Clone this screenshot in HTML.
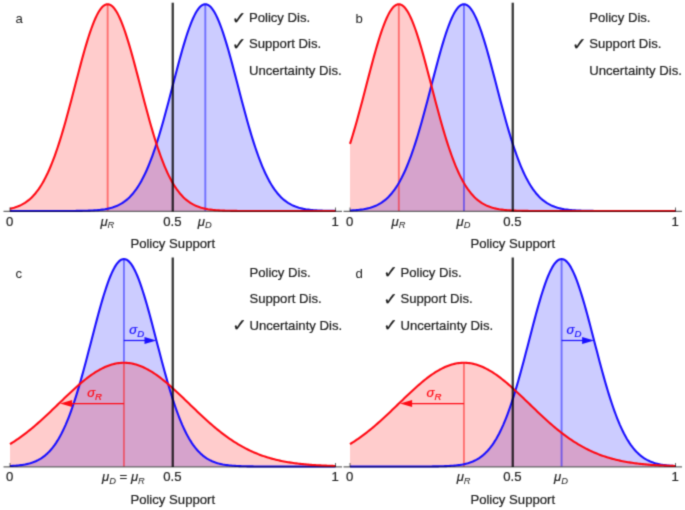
<!DOCTYPE html>
<html><head><meta charset="utf-8"><title>Policy Support</title>
<style>
html,body{margin:0;padding:0;background:#fff;}
svg{display:block}
.t{font-family:"Liberation Sans","DejaVu Sans",sans-serif;font-size:13.15px;fill:#202020;stroke:#202020;stroke-width:0.2px;}
.i{font-style:italic}
.s{font-style:italic;font-size:9.3px;stroke-width:0}
.s2{font-size:9.6px;stroke-width:0.2px}
.lb{stroke-width:0}
.ck{font-family:'DejaVu Sans',sans-serif;font-size:17.5px}
</style></head><body>
<svg width="685" height="510" viewBox="0 0 685 510">
<defs><filter id="soft" x="0" y="0" width="100%" height="100%" filterUnits="userSpaceOnUse" color-interpolation-filters="sRGB"><feConvolveMatrix order="3" kernelMatrix="0.0622 0.2494 0.0622 0.2494 1 0.2494 0.0622 0.2494 0.0622" divisor="2.2461" edgeMode="duplicate" preserveAlpha="true"/></filter></defs>
<rect width="685" height="510" fill="#fff"/>
<g filter="url(#soft)">
<rect width="685" height="510" fill="#fff"/>
<path d="M10.00,211.00 L11.36,211.00 L12.71,211.00 L14.07,211.00 L15.43,211.00 L16.78,211.00 L18.14,211.00 L19.49,211.00 L20.85,211.00 L22.21,211.00 L23.56,211.00 L24.92,211.00 L26.28,211.00 L27.63,211.00 L28.99,211.00 L30.34,211.00 L31.70,211.00 L33.06,211.00 L34.41,211.00 L35.77,211.00 L37.12,211.00 L38.48,211.00 L39.84,211.00 L41.19,211.00 L42.55,211.00 L43.91,211.00 L45.26,211.00 L46.62,211.00 L47.98,211.00 L49.33,211.00 L50.69,211.00 L52.04,211.00 L53.40,211.00 L54.76,211.00 L56.11,210.99 L57.47,210.99 L58.82,210.99 L60.18,210.99 L61.54,210.99 L62.89,210.99 L64.25,210.98 L65.61,210.98 L66.96,210.98 L68.32,210.97 L69.67,210.96 L71.03,210.96 L72.39,210.95 L73.74,210.94 L75.10,210.93 L76.46,210.92 L77.81,210.90 L79.17,210.89 L80.53,210.87 L81.88,210.84 L83.24,210.82 L84.59,210.79 L85.95,210.75 L87.31,210.71 L88.66,210.66 L90.02,210.61 L91.38,210.55 L92.73,210.48 L94.09,210.40 L95.44,210.30 L96.80,210.20 L98.16,210.08 L99.51,209.95 L100.87,209.80 L102.22,209.63 L103.58,209.43 L104.94,209.22 L106.29,208.97 L107.65,208.70 L109.01,208.40 L110.36,208.06 L111.72,207.68 L113.07,207.26 L114.43,206.80 L115.79,206.29 L117.14,205.72 L118.50,205.09 L119.86,204.40 L121.21,203.65 L122.57,202.82 L123.92,201.91 L125.28,200.93 L126.64,199.85 L127.99,198.68 L129.35,197.41 L130.71,196.03 L132.06,194.55 L133.42,192.95 L134.78,191.22 L136.13,189.37 L137.49,187.39 L138.84,185.27 L140.20,183.01 L141.56,180.61 L142.91,178.05 L144.27,175.34 L145.62,172.48 L146.98,169.46 L148.34,166.28 L149.69,162.94 L151.05,159.43 L152.41,155.77 L153.76,151.96 L155.12,147.98 L156.47,143.86 L157.83,139.59 L159.19,135.19 L160.54,130.65 L161.90,125.98 L163.26,121.20 L164.61,116.32 L165.97,111.34 L167.32,106.29 L168.68,101.17 L170.04,96.00 L171.39,90.79 L172.75,85.57 L174.11,80.35 L175.46,75.14 L176.82,69.97 L178.18,64.87 L179.53,59.83 L180.89,54.90 L182.24,50.08 L183.60,45.41 L184.96,40.89 L186.31,36.55 L187.67,32.42 L189.03,28.50 L190.38,24.82 L191.74,21.39 L193.09,18.24 L194.45,15.38 L195.81,12.81 L197.16,10.56 L198.52,8.64 L199.88,7.05 L201.23,5.81 L202.59,4.92 L203.94,4.38 L205.30,4.20 L206.66,4.38 L208.01,4.92 L209.37,5.81 L210.73,7.05 L212.08,8.64 L213.44,10.56 L214.79,12.81 L216.15,15.38 L217.51,18.24 L218.86,21.39 L220.22,24.82 L221.58,28.50 L222.93,32.42 L224.29,36.55 L225.64,40.89 L227.00,45.41 L228.36,50.08 L229.71,54.90 L231.07,59.83 L232.43,64.87 L233.78,69.97 L235.14,75.14 L236.49,80.35 L237.85,85.57 L239.21,90.79 L240.56,96.00 L241.92,101.17 L243.28,106.29 L244.63,111.34 L245.99,116.32 L247.34,121.20 L248.70,125.98 L250.06,130.65 L251.41,135.19 L252.77,139.59 L254.12,143.86 L255.48,147.98 L256.84,151.96 L258.19,155.77 L259.55,159.43 L260.91,162.94 L262.26,166.28 L263.62,169.46 L264.98,172.48 L266.33,175.34 L267.69,178.05 L269.04,180.61 L270.40,183.01 L271.76,185.27 L273.11,187.39 L274.47,189.37 L275.82,191.22 L277.18,192.95 L278.54,194.55 L279.89,196.03 L281.25,197.41 L282.61,198.68 L283.96,199.85 L285.32,200.93 L286.68,201.91 L288.03,202.82 L289.39,203.65 L290.74,204.40 L292.10,205.09 L293.46,205.72 L294.81,206.29 L296.17,206.80 L297.52,207.26 L298.88,207.68 L300.24,208.06 L301.59,208.40 L302.95,208.70 L304.31,208.97 L305.66,209.22 L307.02,209.43 L308.38,209.63 L309.73,209.80 L311.09,209.95 L312.44,210.08 L313.80,210.20 L315.16,210.30 L316.51,210.40 L317.87,210.48 L319.22,210.55 L320.58,210.61 L321.94,210.66 L323.29,210.71 L324.65,210.75 L326.01,210.79 L327.36,210.82 L328.72,210.84 L330.07,210.87 L331.43,210.89 L332.79,210.90 L334.14,210.92 L335.50,210.93 L335.50,211 L10.00,211 Z" fill="rgba(0,0,255,0.2)"/>
<path d="M10.00,208.70 L11.36,208.40 L12.71,208.06 L14.07,207.68 L15.43,207.26 L16.78,206.80 L18.14,206.29 L19.49,205.72 L20.85,205.09 L22.21,204.40 L23.56,203.65 L24.92,202.82 L26.28,201.91 L27.63,200.93 L28.99,199.85 L30.34,198.68 L31.70,197.41 L33.06,196.03 L34.41,194.55 L35.77,192.95 L37.12,191.22 L38.48,189.37 L39.84,187.39 L41.19,185.27 L42.55,183.01 L43.91,180.61 L45.26,178.05 L46.62,175.34 L47.98,172.48 L49.33,169.46 L50.69,166.28 L52.04,162.94 L53.40,159.43 L54.76,155.77 L56.11,151.96 L57.47,147.98 L58.82,143.86 L60.18,139.59 L61.54,135.19 L62.89,130.65 L64.25,125.98 L65.61,121.20 L66.96,116.32 L68.32,111.34 L69.67,106.29 L71.03,101.17 L72.39,96.00 L73.74,90.79 L75.10,85.57 L76.46,80.35 L77.81,75.14 L79.17,69.97 L80.53,64.87 L81.88,59.83 L83.24,54.90 L84.59,50.08 L85.95,45.41 L87.31,40.89 L88.66,36.55 L90.02,32.42 L91.38,28.50 L92.73,24.82 L94.09,21.39 L95.44,18.24 L96.80,15.38 L98.16,12.81 L99.51,10.56 L100.87,8.64 L102.22,7.05 L103.58,5.81 L104.94,4.92 L106.29,4.38 L107.65,4.20 L109.01,4.38 L110.36,4.92 L111.72,5.81 L113.07,7.05 L114.43,8.64 L115.79,10.56 L117.14,12.81 L118.50,15.38 L119.86,18.24 L121.21,21.39 L122.57,24.82 L123.92,28.50 L125.28,32.42 L126.64,36.55 L127.99,40.89 L129.35,45.41 L130.71,50.08 L132.06,54.90 L133.42,59.83 L134.78,64.87 L136.13,69.97 L137.49,75.14 L138.84,80.35 L140.20,85.57 L141.56,90.79 L142.91,96.00 L144.27,101.17 L145.62,106.29 L146.98,111.34 L148.34,116.32 L149.69,121.20 L151.05,125.98 L152.41,130.65 L153.76,135.19 L155.12,139.59 L156.47,143.86 L157.83,147.98 L159.19,151.96 L160.54,155.77 L161.90,159.43 L163.26,162.94 L164.61,166.28 L165.97,169.46 L167.32,172.48 L168.68,175.34 L170.04,178.05 L171.39,180.61 L172.75,183.01 L174.11,185.27 L175.46,187.39 L176.82,189.37 L178.18,191.22 L179.53,192.95 L180.89,194.55 L182.24,196.03 L183.60,197.41 L184.96,198.68 L186.31,199.85 L187.67,200.93 L189.03,201.91 L190.38,202.82 L191.74,203.65 L193.09,204.40 L194.45,205.09 L195.81,205.72 L197.16,206.29 L198.52,206.80 L199.88,207.26 L201.23,207.68 L202.59,208.06 L203.94,208.40 L205.30,208.70 L206.66,208.97 L208.01,209.22 L209.37,209.43 L210.73,209.63 L212.08,209.80 L213.44,209.95 L214.79,210.08 L216.15,210.20 L217.51,210.30 L218.86,210.40 L220.22,210.48 L221.58,210.55 L222.93,210.61 L224.29,210.66 L225.64,210.71 L227.00,210.75 L228.36,210.79 L229.71,210.82 L231.07,210.84 L232.43,210.87 L233.78,210.89 L235.14,210.90 L236.49,210.92 L237.85,210.93 L239.21,210.94 L240.56,210.95 L241.92,210.96 L243.28,210.96 L244.63,210.97 L245.99,210.98 L247.34,210.98 L248.70,210.98 L250.06,210.99 L251.41,210.99 L252.77,210.99 L254.12,210.99 L255.48,210.99 L256.84,210.99 L258.19,211.00 L259.55,211.00 L260.91,211.00 L262.26,211.00 L263.62,211.00 L264.98,211.00 L266.33,211.00 L267.69,211.00 L269.04,211.00 L270.40,211.00 L271.76,211.00 L273.11,211.00 L274.47,211.00 L275.82,211.00 L277.18,211.00 L278.54,211.00 L279.89,211.00 L281.25,211.00 L282.61,211.00 L283.96,211.00 L285.32,211.00 L286.68,211.00 L288.03,211.00 L289.39,211.00 L290.74,211.00 L292.10,211.00 L293.46,211.00 L294.81,211.00 L296.17,211.00 L297.52,211.00 L298.88,211.00 L300.24,211.00 L301.59,211.00 L302.95,211.00 L304.31,211.00 L305.66,211.00 L307.02,211.00 L308.38,211.00 L309.73,211.00 L311.09,211.00 L312.44,211.00 L313.80,211.00 L315.16,211.00 L316.51,211.00 L317.87,211.00 L319.22,211.00 L320.58,211.00 L321.94,211.00 L323.29,211.00 L324.65,211.00 L326.01,211.00 L327.36,211.00 L328.72,211.00 L330.07,211.00 L331.43,211.00 L332.79,211.00 L334.14,211.00 L335.50,211.00 L335.50,211 L10.00,211 Z" fill="rgba(255,0,0,0.2)"/>
<line x1="205.30" y1="4.20" x2="205.30" y2="211.00" stroke="#0000ff" stroke-width="1.9" opacity="0.45"/>
<line x1="107.65" y1="4.20" x2="107.65" y2="211" stroke="#ff0000" stroke-width="1.9" opacity="0.45"/>
<path d="M10.00,211.00 L11.36,211.00 L12.71,211.00 L14.07,211.00 L15.43,211.00 L16.78,211.00 L18.14,211.00 L19.49,211.00 L20.85,211.00 L22.21,211.00 L23.56,211.00 L24.92,211.00 L26.28,211.00 L27.63,211.00 L28.99,211.00 L30.34,211.00 L31.70,211.00 L33.06,211.00 L34.41,211.00 L35.77,211.00 L37.12,211.00 L38.48,211.00 L39.84,211.00 L41.19,211.00 L42.55,211.00 L43.91,211.00 L45.26,211.00 L46.62,211.00 L47.98,211.00 L49.33,211.00 L50.69,211.00 L52.04,211.00 L53.40,211.00 L54.76,211.00 L56.11,210.99 L57.47,210.99 L58.82,210.99 L60.18,210.99 L61.54,210.99 L62.89,210.99 L64.25,210.98 L65.61,210.98 L66.96,210.98 L68.32,210.97 L69.67,210.96 L71.03,210.96 L72.39,210.95 L73.74,210.94 L75.10,210.93 L76.46,210.92 L77.81,210.90 L79.17,210.89 L80.53,210.87 L81.88,210.84 L83.24,210.82 L84.59,210.79 L85.95,210.75 L87.31,210.71 L88.66,210.66 L90.02,210.61 L91.38,210.55 L92.73,210.48 L94.09,210.40 L95.44,210.30 L96.80,210.20 L98.16,210.08 L99.51,209.95 L100.87,209.80 L102.22,209.63 L103.58,209.43 L104.94,209.22 L106.29,208.97 L107.65,208.70 L109.01,208.40 L110.36,208.06 L111.72,207.68 L113.07,207.26 L114.43,206.80 L115.79,206.29 L117.14,205.72 L118.50,205.09 L119.86,204.40 L121.21,203.65 L122.57,202.82 L123.92,201.91 L125.28,200.93 L126.64,199.85 L127.99,198.68 L129.35,197.41 L130.71,196.03 L132.06,194.55 L133.42,192.95 L134.78,191.22 L136.13,189.37 L137.49,187.39 L138.84,185.27 L140.20,183.01 L141.56,180.61 L142.91,178.05 L144.27,175.34 L145.62,172.48 L146.98,169.46 L148.34,166.28 L149.69,162.94 L151.05,159.43 L152.41,155.77 L153.76,151.96 L155.12,147.98 L156.47,143.86 L157.83,139.59 L159.19,135.19 L160.54,130.65 L161.90,125.98 L163.26,121.20 L164.61,116.32 L165.97,111.34 L167.32,106.29 L168.68,101.17 L170.04,96.00 L171.39,90.79 L172.75,85.57 L174.11,80.35 L175.46,75.14 L176.82,69.97 L178.18,64.87 L179.53,59.83 L180.89,54.90 L182.24,50.08 L183.60,45.41 L184.96,40.89 L186.31,36.55 L187.67,32.42 L189.03,28.50 L190.38,24.82 L191.74,21.39 L193.09,18.24 L194.45,15.38 L195.81,12.81 L197.16,10.56 L198.52,8.64 L199.88,7.05 L201.23,5.81 L202.59,4.92 L203.94,4.38 L205.30,4.20 L206.66,4.38 L208.01,4.92 L209.37,5.81 L210.73,7.05 L212.08,8.64 L213.44,10.56 L214.79,12.81 L216.15,15.38 L217.51,18.24 L218.86,21.39 L220.22,24.82 L221.58,28.50 L222.93,32.42 L224.29,36.55 L225.64,40.89 L227.00,45.41 L228.36,50.08 L229.71,54.90 L231.07,59.83 L232.43,64.87 L233.78,69.97 L235.14,75.14 L236.49,80.35 L237.85,85.57 L239.21,90.79 L240.56,96.00 L241.92,101.17 L243.28,106.29 L244.63,111.34 L245.99,116.32 L247.34,121.20 L248.70,125.98 L250.06,130.65 L251.41,135.19 L252.77,139.59 L254.12,143.86 L255.48,147.98 L256.84,151.96 L258.19,155.77 L259.55,159.43 L260.91,162.94 L262.26,166.28 L263.62,169.46 L264.98,172.48 L266.33,175.34 L267.69,178.05 L269.04,180.61 L270.40,183.01 L271.76,185.27 L273.11,187.39 L274.47,189.37 L275.82,191.22 L277.18,192.95 L278.54,194.55 L279.89,196.03 L281.25,197.41 L282.61,198.68 L283.96,199.85 L285.32,200.93 L286.68,201.91 L288.03,202.82 L289.39,203.65 L290.74,204.40 L292.10,205.09 L293.46,205.72 L294.81,206.29 L296.17,206.80 L297.52,207.26 L298.88,207.68 L300.24,208.06 L301.59,208.40 L302.95,208.70 L304.31,208.97 L305.66,209.22 L307.02,209.43 L308.38,209.63 L309.73,209.80 L311.09,209.95 L312.44,210.08 L313.80,210.20 L315.16,210.30 L316.51,210.40 L317.87,210.48 L319.22,210.55 L320.58,210.61 L321.94,210.66 L323.29,210.71 L324.65,210.75 L326.01,210.79 L327.36,210.82 L328.72,210.84 L330.07,210.87 L331.43,210.89 L332.79,210.90 L334.14,210.92 L335.50,210.93" fill="none" stroke="#1a10ff" stroke-width="2.1" stroke-linejoin="round"/>
<path d="M10.00,208.70 L11.36,208.40 L12.71,208.06 L14.07,207.68 L15.43,207.26 L16.78,206.80 L18.14,206.29 L19.49,205.72 L20.85,205.09 L22.21,204.40 L23.56,203.65 L24.92,202.82 L26.28,201.91 L27.63,200.93 L28.99,199.85 L30.34,198.68 L31.70,197.41 L33.06,196.03 L34.41,194.55 L35.77,192.95 L37.12,191.22 L38.48,189.37 L39.84,187.39 L41.19,185.27 L42.55,183.01 L43.91,180.61 L45.26,178.05 L46.62,175.34 L47.98,172.48 L49.33,169.46 L50.69,166.28 L52.04,162.94 L53.40,159.43 L54.76,155.77 L56.11,151.96 L57.47,147.98 L58.82,143.86 L60.18,139.59 L61.54,135.19 L62.89,130.65 L64.25,125.98 L65.61,121.20 L66.96,116.32 L68.32,111.34 L69.67,106.29 L71.03,101.17 L72.39,96.00 L73.74,90.79 L75.10,85.57 L76.46,80.35 L77.81,75.14 L79.17,69.97 L80.53,64.87 L81.88,59.83 L83.24,54.90 L84.59,50.08 L85.95,45.41 L87.31,40.89 L88.66,36.55 L90.02,32.42 L91.38,28.50 L92.73,24.82 L94.09,21.39 L95.44,18.24 L96.80,15.38 L98.16,12.81 L99.51,10.56 L100.87,8.64 L102.22,7.05 L103.58,5.81 L104.94,4.92 L106.29,4.38 L107.65,4.20 L109.01,4.38 L110.36,4.92 L111.72,5.81 L113.07,7.05 L114.43,8.64 L115.79,10.56 L117.14,12.81 L118.50,15.38 L119.86,18.24 L121.21,21.39 L122.57,24.82 L123.92,28.50 L125.28,32.42 L126.64,36.55 L127.99,40.89 L129.35,45.41 L130.71,50.08 L132.06,54.90 L133.42,59.83 L134.78,64.87 L136.13,69.97 L137.49,75.14 L138.84,80.35 L140.20,85.57 L141.56,90.79 L142.91,96.00 L144.27,101.17 L145.62,106.29 L146.98,111.34 L148.34,116.32 L149.69,121.20 L151.05,125.98 L152.41,130.65 L153.76,135.19 L155.12,139.59 L156.47,143.86 L157.83,147.98 L159.19,151.96 L160.54,155.77 L161.90,159.43 L163.26,162.94 L164.61,166.28 L165.97,169.46 L167.32,172.48 L168.68,175.34 L170.04,178.05 L171.39,180.61 L172.75,183.01 L174.11,185.27 L175.46,187.39 L176.82,189.37 L178.18,191.22 L179.53,192.95 L180.89,194.55 L182.24,196.03 L183.60,197.41 L184.96,198.68 L186.31,199.85 L187.67,200.93 L189.03,201.91 L190.38,202.82 L191.74,203.65 L193.09,204.40 L194.45,205.09 L195.81,205.72 L197.16,206.29 L198.52,206.80 L199.88,207.26 L201.23,207.68 L202.59,208.06 L203.94,208.40 L205.30,208.70 L206.66,208.97 L208.01,209.22 L209.37,209.43 L210.73,209.63 L212.08,209.80 L213.44,209.95 L214.79,210.08 L216.15,210.20 L217.51,210.30 L218.86,210.40 L220.22,210.48 L221.58,210.55 L222.93,210.61 L224.29,210.66 L225.64,210.71 L227.00,210.75 L228.36,210.79 L229.71,210.82 L231.07,210.84 L232.43,210.87 L233.78,210.89 L235.14,210.90 L236.49,210.92 L237.85,210.93 L239.21,210.94 L240.56,210.95 L241.92,210.96 L243.28,210.96 L244.63,210.97 L245.99,210.98 L247.34,210.98 L248.70,210.98 L250.06,210.99 L251.41,210.99 L252.77,210.99 L254.12,210.99 L255.48,210.99 L256.84,210.99 L258.19,211.00 L259.55,211.00 L260.91,211.00 L262.26,211.00 L263.62,211.00 L264.98,211.00 L266.33,211.00 L267.69,211.00 L269.04,211.00 L270.40,211.00 L271.76,211.00 L273.11,211.00 L274.47,211.00 L275.82,211.00 L277.18,211.00 L278.54,211.00 L279.89,211.00 L281.25,211.00 L282.61,211.00 L283.96,211.00 L285.32,211.00 L286.68,211.00 L288.03,211.00 L289.39,211.00 L290.74,211.00 L292.10,211.00 L293.46,211.00 L294.81,211.00 L296.17,211.00 L297.52,211.00 L298.88,211.00 L300.24,211.00 L301.59,211.00 L302.95,211.00 L304.31,211.00 L305.66,211.00 L307.02,211.00 L308.38,211.00 L309.73,211.00 L311.09,211.00 L312.44,211.00 L313.80,211.00 L315.16,211.00 L316.51,211.00 L317.87,211.00 L319.22,211.00 L320.58,211.00 L321.94,211.00 L323.29,211.00 L324.65,211.00 L326.01,211.00 L327.36,211.00 L328.72,211.00 L330.07,211.00 L331.43,211.00 L332.79,211.00 L334.14,211.00 L335.50,211.00" fill="none" stroke="#ff0a14" stroke-width="2.1" stroke-linejoin="round"/>
<line x1="3.5" y1="211.4" x2="342.0" y2="211.4" stroke="#000" stroke-width="1.1" opacity="0.6"/>
<line x1="10.00" y1="211.4" x2="10.00" y2="207.5" stroke="#000" stroke-width="1" opacity="0.6"/>
<line x1="335.50" y1="211.4" x2="335.50" y2="207.5" stroke="#000" stroke-width="1" opacity="0.6"/>
<line x1="172.75" y1="2.7" x2="172.75" y2="211.5" stroke="#000" stroke-width="2.3" opacity="0.78"/>
<text x="9.60" y="225.6" text-anchor="middle" class="t">0</text>
<text x="172.35" y="225.6" text-anchor="middle" class="t">0.5</text>
<text x="335.10" y="225.6" text-anchor="middle" class="t">1</text>
<text x="172.75" y="248" text-anchor="middle" class="t">Policy Support</text>
<text x="107.35" y="225.6" text-anchor="middle" class="t m"><tspan class="i">μ</tspan><tspan class="s" dy="2.8">R</tspan></text>
<text x="204.80" y="225.6" text-anchor="middle" class="t m"><tspan class="i">μ</tspan><tspan class="s" dy="2.8">D</tspan></text>
<text x="15.5" y="23.4" class="t lb">a</text>
<text x="248.9" y="22.099999999999998" class="t">Policy Dis.</text>
<text x="246.3" y="23.499999999999996" text-anchor="end" class="t ck">✓</text>
<text x="248.9" y="48.4" class="t">Support Dis.</text>
<text x="246.3" y="49.8" text-anchor="end" class="t ck">✓</text>
<text x="248.9" y="74.7" class="t">Uncertainty Dis.</text>
<path d="M350.00,210.55 L351.36,210.48 L352.71,210.40 L354.07,210.30 L355.43,210.20 L356.78,210.08 L358.14,209.95 L359.49,209.80 L360.85,209.63 L362.21,209.43 L363.56,209.22 L364.92,208.97 L366.27,208.70 L367.63,208.40 L368.99,208.06 L370.34,207.68 L371.70,207.26 L373.06,206.80 L374.41,206.29 L375.77,205.72 L377.12,205.09 L378.48,204.40 L379.84,203.65 L381.19,202.82 L382.55,201.91 L383.91,200.93 L385.26,199.85 L386.62,198.68 L387.98,197.41 L389.33,196.03 L390.69,194.55 L392.04,192.95 L393.40,191.22 L394.76,189.37 L396.11,187.39 L397.47,185.27 L398.82,183.01 L400.18,180.61 L401.54,178.05 L402.89,175.34 L404.25,172.48 L405.61,169.46 L406.96,166.28 L408.32,162.94 L409.68,159.43 L411.03,155.77 L412.39,151.96 L413.74,147.98 L415.10,143.86 L416.46,139.59 L417.81,135.19 L419.17,130.65 L420.52,125.98 L421.88,121.20 L423.24,116.32 L424.59,111.34 L425.95,106.29 L427.31,101.17 L428.66,96.00 L430.02,90.79 L431.38,85.57 L432.73,80.35 L434.09,75.14 L435.44,69.97 L436.80,64.87 L438.16,59.83 L439.51,54.90 L440.87,50.08 L442.23,45.41 L443.58,40.89 L444.94,36.55 L446.29,32.42 L447.65,28.50 L449.01,24.82 L450.36,21.39 L451.72,18.24 L453.07,15.38 L454.43,12.81 L455.79,10.56 L457.14,8.64 L458.50,7.05 L459.86,5.81 L461.21,4.92 L462.57,4.38 L463.93,4.20 L465.28,4.38 L466.64,4.92 L467.99,5.81 L469.35,7.05 L470.71,8.64 L472.06,10.56 L473.42,12.81 L474.77,15.38 L476.13,18.24 L477.49,21.39 L478.84,24.82 L480.20,28.50 L481.56,32.42 L482.91,36.55 L484.27,40.89 L485.62,45.41 L486.98,50.08 L488.34,54.90 L489.69,59.83 L491.05,64.87 L492.41,69.97 L493.76,75.14 L495.12,80.35 L496.48,85.57 L497.83,90.79 L499.19,96.00 L500.54,101.17 L501.90,106.29 L503.26,111.34 L504.61,116.32 L505.97,121.20 L507.32,125.98 L508.68,130.65 L510.04,135.19 L511.39,139.59 L512.75,143.86 L514.11,147.98 L515.46,151.96 L516.82,155.77 L518.17,159.43 L519.53,162.94 L520.89,166.28 L522.24,169.46 L523.60,172.48 L524.96,175.34 L526.31,178.05 L527.67,180.61 L529.02,183.01 L530.38,185.27 L531.74,187.39 L533.09,189.37 L534.45,191.22 L535.81,192.95 L537.16,194.55 L538.52,196.03 L539.88,197.41 L541.23,198.68 L542.59,199.85 L543.94,200.93 L545.30,201.91 L546.66,202.82 L548.01,203.65 L549.37,204.40 L550.73,205.09 L552.08,205.72 L553.44,206.29 L554.79,206.80 L556.15,207.26 L557.51,207.68 L558.86,208.06 L560.22,208.40 L561.58,208.70 L562.93,208.97 L564.29,209.22 L565.64,209.43 L567.00,209.63 L568.36,209.80 L569.71,209.95 L571.07,210.08 L572.42,210.20 L573.78,210.30 L575.14,210.40 L576.49,210.48 L577.85,210.55 L579.21,210.61 L580.56,210.66 L581.92,210.71 L583.27,210.75 L584.63,210.79 L585.99,210.82 L587.34,210.84 L588.70,210.87 L590.06,210.89 L591.41,210.90 L592.77,210.92 L594.12,210.93 L595.48,210.94 L596.84,210.95 L598.19,210.96 L599.55,210.96 L600.91,210.97 L602.26,210.98 L603.62,210.98 L604.98,210.98 L606.33,210.99 L607.69,210.99 L609.04,210.99 L610.40,210.99 L611.76,210.99 L613.11,210.99 L614.47,211.00 L615.83,211.00 L617.18,211.00 L618.54,211.00 L619.89,211.00 L621.25,211.00 L622.61,211.00 L623.96,211.00 L625.32,211.00 L626.67,211.00 L628.03,211.00 L629.39,211.00 L630.74,211.00 L632.10,211.00 L633.46,211.00 L634.81,211.00 L636.17,211.00 L637.52,211.00 L638.88,211.00 L640.24,211.00 L641.59,211.00 L642.95,211.00 L644.31,211.00 L645.66,211.00 L647.02,211.00 L648.38,211.00 L649.73,211.00 L651.09,211.00 L652.44,211.00 L653.80,211.00 L655.16,211.00 L656.51,211.00 L657.87,211.00 L659.22,211.00 L660.58,211.00 L661.94,211.00 L663.29,211.00 L664.65,211.00 L666.01,211.00 L667.36,211.00 L668.72,211.00 L670.08,211.00 L671.43,211.00 L672.79,211.00 L674.14,211.00 L675.50,211.00 L675.50,211 L350.00,211 Z" fill="rgba(0,0,255,0.2)"/>
<path d="M350.00,143.86 L351.36,139.59 L352.71,135.19 L354.07,130.65 L355.43,125.98 L356.78,121.20 L358.14,116.32 L359.49,111.34 L360.85,106.29 L362.21,101.17 L363.56,96.00 L364.92,90.79 L366.27,85.57 L367.63,80.35 L368.99,75.14 L370.34,69.97 L371.70,64.87 L373.06,59.83 L374.41,54.90 L375.77,50.08 L377.12,45.41 L378.48,40.89 L379.84,36.55 L381.19,32.42 L382.55,28.50 L383.91,24.82 L385.26,21.39 L386.62,18.24 L387.98,15.38 L389.33,12.81 L390.69,10.56 L392.04,8.64 L393.40,7.05 L394.76,5.81 L396.11,4.92 L397.47,4.38 L398.82,4.20 L400.18,4.38 L401.54,4.92 L402.89,5.81 L404.25,7.05 L405.61,8.64 L406.96,10.56 L408.32,12.81 L409.68,15.38 L411.03,18.24 L412.39,21.39 L413.74,24.82 L415.10,28.50 L416.46,32.42 L417.81,36.55 L419.17,40.89 L420.52,45.41 L421.88,50.08 L423.24,54.90 L424.59,59.83 L425.95,64.87 L427.31,69.97 L428.66,75.14 L430.02,80.35 L431.38,85.57 L432.73,90.79 L434.09,96.00 L435.44,101.17 L436.80,106.29 L438.16,111.34 L439.51,116.32 L440.87,121.20 L442.23,125.98 L443.58,130.65 L444.94,135.19 L446.29,139.59 L447.65,143.86 L449.01,147.98 L450.36,151.96 L451.72,155.77 L453.07,159.43 L454.43,162.94 L455.79,166.28 L457.14,169.46 L458.50,172.48 L459.86,175.34 L461.21,178.05 L462.57,180.61 L463.93,183.01 L465.28,185.27 L466.64,187.39 L467.99,189.37 L469.35,191.22 L470.71,192.95 L472.06,194.55 L473.42,196.03 L474.77,197.41 L476.13,198.68 L477.49,199.85 L478.84,200.93 L480.20,201.91 L481.56,202.82 L482.91,203.65 L484.27,204.40 L485.62,205.09 L486.98,205.72 L488.34,206.29 L489.69,206.80 L491.05,207.26 L492.41,207.68 L493.76,208.06 L495.12,208.40 L496.48,208.70 L497.83,208.97 L499.19,209.22 L500.54,209.43 L501.90,209.63 L503.26,209.80 L504.61,209.95 L505.97,210.08 L507.32,210.20 L508.68,210.30 L510.04,210.40 L511.39,210.48 L512.75,210.55 L514.11,210.61 L515.46,210.66 L516.82,210.71 L518.17,210.75 L519.53,210.79 L520.89,210.82 L522.24,210.84 L523.60,210.87 L524.96,210.89 L526.31,210.90 L527.67,210.92 L529.02,210.93 L530.38,210.94 L531.74,210.95 L533.09,210.96 L534.45,210.96 L535.81,210.97 L537.16,210.98 L538.52,210.98 L539.88,210.98 L541.23,210.99 L542.59,210.99 L543.94,210.99 L545.30,210.99 L546.66,210.99 L548.01,210.99 L549.37,211.00 L550.73,211.00 L552.08,211.00 L553.44,211.00 L554.79,211.00 L556.15,211.00 L557.51,211.00 L558.86,211.00 L560.22,211.00 L561.58,211.00 L562.93,211.00 L564.29,211.00 L565.64,211.00 L567.00,211.00 L568.36,211.00 L569.71,211.00 L571.07,211.00 L572.42,211.00 L573.78,211.00 L575.14,211.00 L576.49,211.00 L577.85,211.00 L579.21,211.00 L580.56,211.00 L581.92,211.00 L583.27,211.00 L584.63,211.00 L585.99,211.00 L587.34,211.00 L588.70,211.00 L590.06,211.00 L591.41,211.00 L592.77,211.00 L594.12,211.00 L595.48,211.00 L596.84,211.00 L598.19,211.00 L599.55,211.00 L600.91,211.00 L602.26,211.00 L603.62,211.00 L604.98,211.00 L606.33,211.00 L607.69,211.00 L609.04,211.00 L610.40,211.00 L611.76,211.00 L613.11,211.00 L614.47,211.00 L615.83,211.00 L617.18,211.00 L618.54,211.00 L619.89,211.00 L621.25,211.00 L622.61,211.00 L623.96,211.00 L625.32,211.00 L626.67,211.00 L628.03,211.00 L629.39,211.00 L630.74,211.00 L632.10,211.00 L633.46,211.00 L634.81,211.00 L636.17,211.00 L637.52,211.00 L638.88,211.00 L640.24,211.00 L641.59,211.00 L642.95,211.00 L644.31,211.00 L645.66,211.00 L647.02,211.00 L648.38,211.00 L649.73,211.00 L651.09,211.00 L652.44,211.00 L653.80,211.00 L655.16,211.00 L656.51,211.00 L657.87,211.00 L659.22,211.00 L660.58,211.00 L661.94,211.00 L663.29,211.00 L664.65,211.00 L666.01,211.00 L667.36,211.00 L668.72,211.00 L670.08,211.00 L671.43,211.00 L672.79,211.00 L674.14,211.00 L675.50,211.00 L675.50,211 L350.00,211 Z" fill="rgba(255,0,0,0.2)"/>
<line x1="463.93" y1="4.20" x2="463.93" y2="211.00" stroke="#0000ff" stroke-width="1.9" opacity="0.45"/>
<line x1="398.82" y1="4.20" x2="398.82" y2="211" stroke="#ff0000" stroke-width="1.9" opacity="0.45"/>
<path d="M350.00,210.55 L351.36,210.48 L352.71,210.40 L354.07,210.30 L355.43,210.20 L356.78,210.08 L358.14,209.95 L359.49,209.80 L360.85,209.63 L362.21,209.43 L363.56,209.22 L364.92,208.97 L366.27,208.70 L367.63,208.40 L368.99,208.06 L370.34,207.68 L371.70,207.26 L373.06,206.80 L374.41,206.29 L375.77,205.72 L377.12,205.09 L378.48,204.40 L379.84,203.65 L381.19,202.82 L382.55,201.91 L383.91,200.93 L385.26,199.85 L386.62,198.68 L387.98,197.41 L389.33,196.03 L390.69,194.55 L392.04,192.95 L393.40,191.22 L394.76,189.37 L396.11,187.39 L397.47,185.27 L398.82,183.01 L400.18,180.61 L401.54,178.05 L402.89,175.34 L404.25,172.48 L405.61,169.46 L406.96,166.28 L408.32,162.94 L409.68,159.43 L411.03,155.77 L412.39,151.96 L413.74,147.98 L415.10,143.86 L416.46,139.59 L417.81,135.19 L419.17,130.65 L420.52,125.98 L421.88,121.20 L423.24,116.32 L424.59,111.34 L425.95,106.29 L427.31,101.17 L428.66,96.00 L430.02,90.79 L431.38,85.57 L432.73,80.35 L434.09,75.14 L435.44,69.97 L436.80,64.87 L438.16,59.83 L439.51,54.90 L440.87,50.08 L442.23,45.41 L443.58,40.89 L444.94,36.55 L446.29,32.42 L447.65,28.50 L449.01,24.82 L450.36,21.39 L451.72,18.24 L453.07,15.38 L454.43,12.81 L455.79,10.56 L457.14,8.64 L458.50,7.05 L459.86,5.81 L461.21,4.92 L462.57,4.38 L463.93,4.20 L465.28,4.38 L466.64,4.92 L467.99,5.81 L469.35,7.05 L470.71,8.64 L472.06,10.56 L473.42,12.81 L474.77,15.38 L476.13,18.24 L477.49,21.39 L478.84,24.82 L480.20,28.50 L481.56,32.42 L482.91,36.55 L484.27,40.89 L485.62,45.41 L486.98,50.08 L488.34,54.90 L489.69,59.83 L491.05,64.87 L492.41,69.97 L493.76,75.14 L495.12,80.35 L496.48,85.57 L497.83,90.79 L499.19,96.00 L500.54,101.17 L501.90,106.29 L503.26,111.34 L504.61,116.32 L505.97,121.20 L507.32,125.98 L508.68,130.65 L510.04,135.19 L511.39,139.59 L512.75,143.86 L514.11,147.98 L515.46,151.96 L516.82,155.77 L518.17,159.43 L519.53,162.94 L520.89,166.28 L522.24,169.46 L523.60,172.48 L524.96,175.34 L526.31,178.05 L527.67,180.61 L529.02,183.01 L530.38,185.27 L531.74,187.39 L533.09,189.37 L534.45,191.22 L535.81,192.95 L537.16,194.55 L538.52,196.03 L539.88,197.41 L541.23,198.68 L542.59,199.85 L543.94,200.93 L545.30,201.91 L546.66,202.82 L548.01,203.65 L549.37,204.40 L550.73,205.09 L552.08,205.72 L553.44,206.29 L554.79,206.80 L556.15,207.26 L557.51,207.68 L558.86,208.06 L560.22,208.40 L561.58,208.70 L562.93,208.97 L564.29,209.22 L565.64,209.43 L567.00,209.63 L568.36,209.80 L569.71,209.95 L571.07,210.08 L572.42,210.20 L573.78,210.30 L575.14,210.40 L576.49,210.48 L577.85,210.55 L579.21,210.61 L580.56,210.66 L581.92,210.71 L583.27,210.75 L584.63,210.79 L585.99,210.82 L587.34,210.84 L588.70,210.87 L590.06,210.89 L591.41,210.90 L592.77,210.92 L594.12,210.93 L595.48,210.94 L596.84,210.95 L598.19,210.96 L599.55,210.96 L600.91,210.97 L602.26,210.98 L603.62,210.98 L604.98,210.98 L606.33,210.99 L607.69,210.99 L609.04,210.99 L610.40,210.99 L611.76,210.99 L613.11,210.99 L614.47,211.00 L615.83,211.00 L617.18,211.00 L618.54,211.00 L619.89,211.00 L621.25,211.00 L622.61,211.00 L623.96,211.00 L625.32,211.00 L626.67,211.00 L628.03,211.00 L629.39,211.00 L630.74,211.00 L632.10,211.00 L633.46,211.00 L634.81,211.00 L636.17,211.00 L637.52,211.00 L638.88,211.00 L640.24,211.00 L641.59,211.00 L642.95,211.00 L644.31,211.00 L645.66,211.00 L647.02,211.00 L648.38,211.00 L649.73,211.00 L651.09,211.00 L652.44,211.00 L653.80,211.00 L655.16,211.00 L656.51,211.00 L657.87,211.00 L659.22,211.00 L660.58,211.00 L661.94,211.00 L663.29,211.00 L664.65,211.00 L666.01,211.00 L667.36,211.00 L668.72,211.00 L670.08,211.00 L671.43,211.00 L672.79,211.00 L674.14,211.00 L675.50,211.00" fill="none" stroke="#1a10ff" stroke-width="2.1" stroke-linejoin="round"/>
<path d="M350.00,143.86 L351.36,139.59 L352.71,135.19 L354.07,130.65 L355.43,125.98 L356.78,121.20 L358.14,116.32 L359.49,111.34 L360.85,106.29 L362.21,101.17 L363.56,96.00 L364.92,90.79 L366.27,85.57 L367.63,80.35 L368.99,75.14 L370.34,69.97 L371.70,64.87 L373.06,59.83 L374.41,54.90 L375.77,50.08 L377.12,45.41 L378.48,40.89 L379.84,36.55 L381.19,32.42 L382.55,28.50 L383.91,24.82 L385.26,21.39 L386.62,18.24 L387.98,15.38 L389.33,12.81 L390.69,10.56 L392.04,8.64 L393.40,7.05 L394.76,5.81 L396.11,4.92 L397.47,4.38 L398.82,4.20 L400.18,4.38 L401.54,4.92 L402.89,5.81 L404.25,7.05 L405.61,8.64 L406.96,10.56 L408.32,12.81 L409.68,15.38 L411.03,18.24 L412.39,21.39 L413.74,24.82 L415.10,28.50 L416.46,32.42 L417.81,36.55 L419.17,40.89 L420.52,45.41 L421.88,50.08 L423.24,54.90 L424.59,59.83 L425.95,64.87 L427.31,69.97 L428.66,75.14 L430.02,80.35 L431.38,85.57 L432.73,90.79 L434.09,96.00 L435.44,101.17 L436.80,106.29 L438.16,111.34 L439.51,116.32 L440.87,121.20 L442.23,125.98 L443.58,130.65 L444.94,135.19 L446.29,139.59 L447.65,143.86 L449.01,147.98 L450.36,151.96 L451.72,155.77 L453.07,159.43 L454.43,162.94 L455.79,166.28 L457.14,169.46 L458.50,172.48 L459.86,175.34 L461.21,178.05 L462.57,180.61 L463.93,183.01 L465.28,185.27 L466.64,187.39 L467.99,189.37 L469.35,191.22 L470.71,192.95 L472.06,194.55 L473.42,196.03 L474.77,197.41 L476.13,198.68 L477.49,199.85 L478.84,200.93 L480.20,201.91 L481.56,202.82 L482.91,203.65 L484.27,204.40 L485.62,205.09 L486.98,205.72 L488.34,206.29 L489.69,206.80 L491.05,207.26 L492.41,207.68 L493.76,208.06 L495.12,208.40 L496.48,208.70 L497.83,208.97 L499.19,209.22 L500.54,209.43 L501.90,209.63 L503.26,209.80 L504.61,209.95 L505.97,210.08 L507.32,210.20 L508.68,210.30 L510.04,210.40 L511.39,210.48 L512.75,210.55 L514.11,210.61 L515.46,210.66 L516.82,210.71 L518.17,210.75 L519.53,210.79 L520.89,210.82 L522.24,210.84 L523.60,210.87 L524.96,210.89 L526.31,210.90 L527.67,210.92 L529.02,210.93 L530.38,210.94 L531.74,210.95 L533.09,210.96 L534.45,210.96 L535.81,210.97 L537.16,210.98 L538.52,210.98 L539.88,210.98 L541.23,210.99 L542.59,210.99 L543.94,210.99 L545.30,210.99 L546.66,210.99 L548.01,210.99 L549.37,211.00 L550.73,211.00 L552.08,211.00 L553.44,211.00 L554.79,211.00 L556.15,211.00 L557.51,211.00 L558.86,211.00 L560.22,211.00 L561.58,211.00 L562.93,211.00 L564.29,211.00 L565.64,211.00 L567.00,211.00 L568.36,211.00 L569.71,211.00 L571.07,211.00 L572.42,211.00 L573.78,211.00 L575.14,211.00 L576.49,211.00 L577.85,211.00 L579.21,211.00 L580.56,211.00 L581.92,211.00 L583.27,211.00 L584.63,211.00 L585.99,211.00 L587.34,211.00 L588.70,211.00 L590.06,211.00 L591.41,211.00 L592.77,211.00 L594.12,211.00 L595.48,211.00 L596.84,211.00 L598.19,211.00 L599.55,211.00 L600.91,211.00 L602.26,211.00 L603.62,211.00 L604.98,211.00 L606.33,211.00 L607.69,211.00 L609.04,211.00 L610.40,211.00 L611.76,211.00 L613.11,211.00 L614.47,211.00 L615.83,211.00 L617.18,211.00 L618.54,211.00 L619.89,211.00 L621.25,211.00 L622.61,211.00 L623.96,211.00 L625.32,211.00 L626.67,211.00 L628.03,211.00 L629.39,211.00 L630.74,211.00 L632.10,211.00 L633.46,211.00 L634.81,211.00 L636.17,211.00 L637.52,211.00 L638.88,211.00 L640.24,211.00 L641.59,211.00 L642.95,211.00 L644.31,211.00 L645.66,211.00 L647.02,211.00 L648.38,211.00 L649.73,211.00 L651.09,211.00 L652.44,211.00 L653.80,211.00 L655.16,211.00 L656.51,211.00 L657.87,211.00 L659.22,211.00 L660.58,211.00 L661.94,211.00 L663.29,211.00 L664.65,211.00 L666.01,211.00 L667.36,211.00 L668.72,211.00 L670.08,211.00 L671.43,211.00 L672.79,211.00 L674.14,211.00 L675.50,211.00" fill="none" stroke="#ff0a14" stroke-width="2.1" stroke-linejoin="round"/>
<line x1="343.5" y1="211.4" x2="682.0" y2="211.4" stroke="#000" stroke-width="1.1" opacity="0.6"/>
<line x1="350.00" y1="211.4" x2="350.00" y2="207.5" stroke="#000" stroke-width="1" opacity="0.6"/>
<line x1="675.50" y1="211.4" x2="675.50" y2="207.5" stroke="#000" stroke-width="1" opacity="0.6"/>
<line x1="512.75" y1="2.7" x2="512.75" y2="211.5" stroke="#000" stroke-width="2.3" opacity="0.78"/>
<text x="349.60" y="225.6" text-anchor="middle" class="t">0</text>
<text x="512.35" y="225.6" text-anchor="middle" class="t">0.5</text>
<text x="675.10" y="225.6" text-anchor="middle" class="t">1</text>
<text x="512.75" y="248" text-anchor="middle" class="t">Policy Support</text>
<text x="398.52" y="225.6" text-anchor="middle" class="t m"><tspan class="i">μ</tspan><tspan class="s" dy="2.8">R</tspan></text>
<text x="463.43" y="225.6" text-anchor="middle" class="t m"><tspan class="i">μ</tspan><tspan class="s" dy="2.8">D</tspan></text>
<text x="355.5" y="23.4" class="t lb">b</text>
<text x="589.2" y="22.099999999999998" class="t">Policy Dis.</text>
<text x="589.2" y="48.4" class="t">Support Dis.</text>
<text x="586.6" y="49.8" text-anchor="end" class="t ck">✓</text>
<text x="589.2" y="74.7" class="t">Uncertainty Dis.</text>
<path d="M10.00,466.05 L11.36,465.98 L12.71,465.89 L14.07,465.80 L15.43,465.70 L16.78,465.58 L18.14,465.44 L19.49,465.29 L20.85,465.12 L22.21,464.93 L23.56,464.71 L24.92,464.47 L26.28,464.19 L27.63,463.89 L28.99,463.55 L30.34,463.17 L31.70,462.75 L33.06,462.29 L34.41,461.77 L35.77,461.20 L37.12,460.57 L38.48,459.88 L39.84,459.12 L41.19,458.29 L42.55,457.38 L43.91,456.39 L45.26,455.31 L46.62,454.14 L47.98,452.86 L49.33,451.48 L50.69,449.99 L52.04,448.38 L53.40,446.66 L54.76,444.80 L56.11,442.81 L57.47,440.69 L58.82,438.42 L60.18,436.00 L61.54,433.44 L62.89,430.72 L64.25,427.85 L65.61,424.82 L66.96,421.62 L68.32,418.27 L69.67,414.76 L71.03,411.09 L72.39,407.26 L73.74,403.27 L75.10,399.13 L76.46,394.85 L77.81,390.43 L79.17,385.87 L80.53,381.19 L81.88,376.40 L83.24,371.50 L84.59,366.51 L85.95,361.44 L87.31,356.30 L88.66,351.11 L90.02,345.89 L91.38,340.64 L92.73,335.40 L94.09,330.18 L95.44,325.00 L96.80,319.87 L98.16,314.82 L99.51,309.87 L100.87,305.04 L102.22,300.35 L103.58,295.82 L104.94,291.46 L106.29,287.31 L107.65,283.38 L109.01,279.69 L110.36,276.25 L111.72,273.09 L113.07,270.21 L114.43,267.64 L115.79,265.38 L117.14,263.45 L118.50,261.86 L119.86,260.61 L121.21,259.72 L122.57,259.18 L123.92,259.00 L125.28,259.18 L126.64,259.72 L127.99,260.61 L129.35,261.86 L130.71,263.45 L132.06,265.38 L133.42,267.64 L134.78,270.21 L136.13,273.09 L137.49,276.25 L138.84,279.69 L140.20,283.38 L141.56,287.31 L142.91,291.46 L144.27,295.82 L145.62,300.35 L146.98,305.04 L148.34,309.87 L149.69,314.82 L151.05,319.87 L152.41,325.00 L153.76,330.18 L155.12,335.40 L156.47,340.64 L157.83,345.89 L159.19,351.11 L160.54,356.30 L161.90,361.44 L163.26,366.51 L164.61,371.50 L165.97,376.40 L167.32,381.19 L168.68,385.87 L170.04,390.43 L171.39,394.85 L172.75,399.13 L174.11,403.27 L175.46,407.26 L176.82,411.09 L178.18,414.76 L179.53,418.27 L180.89,421.62 L182.24,424.82 L183.60,427.85 L184.96,430.72 L186.31,433.44 L187.67,436.00 L189.03,438.42 L190.38,440.69 L191.74,442.81 L193.09,444.80 L194.45,446.66 L195.81,448.38 L197.16,449.99 L198.52,451.48 L199.88,452.86 L201.23,454.14 L202.59,455.31 L203.94,456.39 L205.30,457.38 L206.66,458.29 L208.01,459.12 L209.37,459.88 L210.73,460.57 L212.08,461.20 L213.44,461.77 L214.79,462.29 L216.15,462.75 L217.51,463.17 L218.86,463.55 L220.22,463.89 L221.58,464.19 L222.93,464.47 L224.29,464.71 L225.64,464.93 L227.00,465.12 L228.36,465.29 L229.71,465.44 L231.07,465.58 L232.43,465.70 L233.78,465.80 L235.14,465.89 L236.49,465.98 L237.85,466.05 L239.21,466.11 L240.56,466.16 L241.92,466.21 L243.28,466.25 L244.63,466.29 L245.99,466.32 L247.34,466.34 L248.70,466.37 L250.06,466.39 L251.41,466.40 L252.77,466.42 L254.12,466.43 L255.48,466.44 L256.84,466.45 L258.19,466.46 L259.55,466.46 L260.91,466.47 L262.26,466.48 L263.62,466.48 L264.98,466.48 L266.33,466.49 L267.69,466.49 L269.04,466.49 L270.40,466.49 L271.76,466.49 L273.11,466.49 L274.47,466.50 L275.82,466.50 L277.18,466.50 L278.54,466.50 L279.89,466.50 L281.25,466.50 L282.61,466.50 L283.96,466.50 L285.32,466.50 L286.68,466.50 L288.03,466.50 L289.39,466.50 L290.74,466.50 L292.10,466.50 L293.46,466.50 L294.81,466.50 L296.17,466.50 L297.52,466.50 L298.88,466.50 L300.24,466.50 L301.59,466.50 L302.95,466.50 L304.31,466.50 L305.66,466.50 L307.02,466.50 L308.38,466.50 L309.73,466.50 L311.09,466.50 L312.44,466.50 L313.80,466.50 L315.16,466.50 L316.51,466.50 L317.87,466.50 L319.22,466.50 L320.58,466.50 L321.94,466.50 L323.29,466.50 L324.65,466.50 L326.01,466.50 L327.36,466.50 L328.72,466.50 L330.07,466.50 L331.43,466.50 L332.79,466.50 L334.14,466.50 L335.50,466.50 L335.50,466.5 L10.00,466.5 Z" fill="rgba(0,0,255,0.2)"/>
<path d="M10.00,444.06 L11.36,443.23 L12.71,442.39 L14.07,441.52 L15.43,440.63 L16.78,439.72 L18.14,438.79 L19.49,437.85 L20.85,436.88 L22.21,435.89 L23.56,434.89 L24.92,433.86 L26.28,432.82 L27.63,431.76 L28.99,430.68 L30.34,429.58 L31.70,428.46 L33.06,427.33 L34.41,426.19 L35.77,425.02 L37.12,423.85 L38.48,422.66 L39.84,421.45 L41.19,420.23 L42.55,419.00 L43.91,417.76 L45.26,416.50 L46.62,415.24 L47.98,413.97 L49.33,412.69 L50.69,411.40 L52.04,410.10 L53.40,408.80 L54.76,407.50 L56.11,406.19 L57.47,404.88 L58.82,403.57 L60.18,402.26 L61.54,400.95 L62.89,399.64 L64.25,398.34 L65.61,397.04 L66.96,395.75 L68.32,394.46 L69.67,393.19 L71.03,391.92 L72.39,390.66 L73.74,389.42 L75.10,388.19 L76.46,386.97 L77.81,385.77 L79.17,384.59 L80.53,383.42 L81.88,382.28 L83.24,381.16 L84.59,380.06 L85.95,378.98 L87.31,377.93 L88.66,376.91 L90.02,375.91 L91.38,374.94 L92.73,374.00 L94.09,373.09 L95.44,372.22 L96.80,371.38 L98.16,370.57 L99.51,369.79 L100.87,369.06 L102.22,368.36 L103.58,367.69 L104.94,367.07 L106.29,366.49 L107.65,365.94 L109.01,365.44 L110.36,364.98 L111.72,364.56 L113.07,364.18 L114.43,363.85 L115.79,363.56 L117.14,363.31 L118.50,363.11 L119.86,362.95 L121.21,362.84 L122.57,362.77 L123.92,362.75 L125.28,362.77 L126.64,362.84 L127.99,362.95 L129.35,363.11 L130.71,363.31 L132.06,363.56 L133.42,363.85 L134.78,364.18 L136.13,364.56 L137.49,364.98 L138.84,365.44 L140.20,365.94 L141.56,366.49 L142.91,367.07 L144.27,367.69 L145.62,368.36 L146.98,369.06 L148.34,369.79 L149.69,370.57 L151.05,371.38 L152.41,372.22 L153.76,373.09 L155.12,374.00 L156.47,374.94 L157.83,375.91 L159.19,376.91 L160.54,377.93 L161.90,378.98 L163.26,380.06 L164.61,381.16 L165.97,382.28 L167.32,383.42 L168.68,384.59 L170.04,385.77 L171.39,386.97 L172.75,388.19 L174.11,389.42 L175.46,390.66 L176.82,391.92 L178.18,393.19 L179.53,394.46 L180.89,395.75 L182.24,397.04 L183.60,398.34 L184.96,399.64 L186.31,400.95 L187.67,402.26 L189.03,403.57 L190.38,404.88 L191.74,406.19 L193.09,407.50 L194.45,408.80 L195.81,410.10 L197.16,411.40 L198.52,412.69 L199.88,413.97 L201.23,415.24 L202.59,416.50 L203.94,417.76 L205.30,419.00 L206.66,420.23 L208.01,421.45 L209.37,422.66 L210.73,423.85 L212.08,425.02 L213.44,426.19 L214.79,427.33 L216.15,428.46 L217.51,429.58 L218.86,430.68 L220.22,431.76 L221.58,432.82 L222.93,433.86 L224.29,434.89 L225.64,435.89 L227.00,436.88 L228.36,437.85 L229.71,438.79 L231.07,439.72 L232.43,440.63 L233.78,441.52 L235.14,442.39 L236.49,443.23 L237.85,444.06 L239.21,444.87 L240.56,445.66 L241.92,446.43 L243.28,447.17 L244.63,447.90 L245.99,448.61 L247.34,449.30 L248.70,449.97 L250.06,450.62 L251.41,451.25 L252.77,451.86 L254.12,452.46 L255.48,453.03 L256.84,453.59 L258.19,454.13 L259.55,454.66 L260.91,455.16 L262.26,455.65 L263.62,456.12 L264.98,456.58 L266.33,457.02 L267.69,457.44 L269.04,457.85 L270.40,458.25 L271.76,458.63 L273.11,458.99 L274.47,459.34 L275.82,459.68 L277.18,460.01 L278.54,460.32 L279.89,460.62 L281.25,460.91 L282.61,461.18 L283.96,461.45 L285.32,461.70 L286.68,461.94 L288.03,462.17 L289.39,462.40 L290.74,462.61 L292.10,462.81 L293.46,463.01 L294.81,463.19 L296.17,463.37 L297.52,463.54 L298.88,463.70 L300.24,463.85 L301.59,464.00 L302.95,464.14 L304.31,464.27 L305.66,464.39 L307.02,464.51 L308.38,464.63 L309.73,464.73 L311.09,464.84 L312.44,464.93 L313.80,465.03 L315.16,465.11 L316.51,465.20 L317.87,465.27 L319.22,465.35 L320.58,465.42 L321.94,465.48 L323.29,465.55 L324.65,465.61 L326.01,465.66 L327.36,465.71 L328.72,465.76 L330.07,465.81 L331.43,465.85 L332.79,465.90 L334.14,465.94 L335.50,465.97 L335.50,466.5 L10.00,466.5 Z" fill="rgba(255,0,0,0.2)"/>
<line x1="123.92" y1="259.00" x2="123.92" y2="362.75" stroke="#0000ff" stroke-width="1.9" opacity="0.45"/>
<line x1="123.92" y1="362.75" x2="123.92" y2="466.5" stroke="#ff0000" stroke-width="1.9" opacity="0.45"/>
<path d="M10.00,466.05 L11.36,465.98 L12.71,465.89 L14.07,465.80 L15.43,465.70 L16.78,465.58 L18.14,465.44 L19.49,465.29 L20.85,465.12 L22.21,464.93 L23.56,464.71 L24.92,464.47 L26.28,464.19 L27.63,463.89 L28.99,463.55 L30.34,463.17 L31.70,462.75 L33.06,462.29 L34.41,461.77 L35.77,461.20 L37.12,460.57 L38.48,459.88 L39.84,459.12 L41.19,458.29 L42.55,457.38 L43.91,456.39 L45.26,455.31 L46.62,454.14 L47.98,452.86 L49.33,451.48 L50.69,449.99 L52.04,448.38 L53.40,446.66 L54.76,444.80 L56.11,442.81 L57.47,440.69 L58.82,438.42 L60.18,436.00 L61.54,433.44 L62.89,430.72 L64.25,427.85 L65.61,424.82 L66.96,421.62 L68.32,418.27 L69.67,414.76 L71.03,411.09 L72.39,407.26 L73.74,403.27 L75.10,399.13 L76.46,394.85 L77.81,390.43 L79.17,385.87 L80.53,381.19 L81.88,376.40 L83.24,371.50 L84.59,366.51 L85.95,361.44 L87.31,356.30 L88.66,351.11 L90.02,345.89 L91.38,340.64 L92.73,335.40 L94.09,330.18 L95.44,325.00 L96.80,319.87 L98.16,314.82 L99.51,309.87 L100.87,305.04 L102.22,300.35 L103.58,295.82 L104.94,291.46 L106.29,287.31 L107.65,283.38 L109.01,279.69 L110.36,276.25 L111.72,273.09 L113.07,270.21 L114.43,267.64 L115.79,265.38 L117.14,263.45 L118.50,261.86 L119.86,260.61 L121.21,259.72 L122.57,259.18 L123.92,259.00 L125.28,259.18 L126.64,259.72 L127.99,260.61 L129.35,261.86 L130.71,263.45 L132.06,265.38 L133.42,267.64 L134.78,270.21 L136.13,273.09 L137.49,276.25 L138.84,279.69 L140.20,283.38 L141.56,287.31 L142.91,291.46 L144.27,295.82 L145.62,300.35 L146.98,305.04 L148.34,309.87 L149.69,314.82 L151.05,319.87 L152.41,325.00 L153.76,330.18 L155.12,335.40 L156.47,340.64 L157.83,345.89 L159.19,351.11 L160.54,356.30 L161.90,361.44 L163.26,366.51 L164.61,371.50 L165.97,376.40 L167.32,381.19 L168.68,385.87 L170.04,390.43 L171.39,394.85 L172.75,399.13 L174.11,403.27 L175.46,407.26 L176.82,411.09 L178.18,414.76 L179.53,418.27 L180.89,421.62 L182.24,424.82 L183.60,427.85 L184.96,430.72 L186.31,433.44 L187.67,436.00 L189.03,438.42 L190.38,440.69 L191.74,442.81 L193.09,444.80 L194.45,446.66 L195.81,448.38 L197.16,449.99 L198.52,451.48 L199.88,452.86 L201.23,454.14 L202.59,455.31 L203.94,456.39 L205.30,457.38 L206.66,458.29 L208.01,459.12 L209.37,459.88 L210.73,460.57 L212.08,461.20 L213.44,461.77 L214.79,462.29 L216.15,462.75 L217.51,463.17 L218.86,463.55 L220.22,463.89 L221.58,464.19 L222.93,464.47 L224.29,464.71 L225.64,464.93 L227.00,465.12 L228.36,465.29 L229.71,465.44 L231.07,465.58 L232.43,465.70 L233.78,465.80 L235.14,465.89 L236.49,465.98 L237.85,466.05 L239.21,466.11 L240.56,466.16 L241.92,466.21 L243.28,466.25 L244.63,466.29 L245.99,466.32 L247.34,466.34 L248.70,466.37 L250.06,466.39 L251.41,466.40 L252.77,466.42 L254.12,466.43 L255.48,466.44 L256.84,466.45 L258.19,466.46 L259.55,466.46 L260.91,466.47 L262.26,466.48 L263.62,466.48 L264.98,466.48 L266.33,466.49 L267.69,466.49 L269.04,466.49 L270.40,466.49 L271.76,466.49 L273.11,466.49 L274.47,466.50 L275.82,466.50 L277.18,466.50 L278.54,466.50 L279.89,466.50 L281.25,466.50 L282.61,466.50 L283.96,466.50 L285.32,466.50 L286.68,466.50 L288.03,466.50 L289.39,466.50 L290.74,466.50 L292.10,466.50 L293.46,466.50 L294.81,466.50 L296.17,466.50 L297.52,466.50 L298.88,466.50 L300.24,466.50 L301.59,466.50 L302.95,466.50 L304.31,466.50 L305.66,466.50 L307.02,466.50 L308.38,466.50 L309.73,466.50 L311.09,466.50 L312.44,466.50 L313.80,466.50 L315.16,466.50 L316.51,466.50 L317.87,466.50 L319.22,466.50 L320.58,466.50 L321.94,466.50 L323.29,466.50 L324.65,466.50 L326.01,466.50 L327.36,466.50 L328.72,466.50 L330.07,466.50 L331.43,466.50 L332.79,466.50 L334.14,466.50 L335.50,466.50" fill="none" stroke="#1a10ff" stroke-width="2.1" stroke-linejoin="round"/>
<path d="M10.00,444.06 L11.36,443.23 L12.71,442.39 L14.07,441.52 L15.43,440.63 L16.78,439.72 L18.14,438.79 L19.49,437.85 L20.85,436.88 L22.21,435.89 L23.56,434.89 L24.92,433.86 L26.28,432.82 L27.63,431.76 L28.99,430.68 L30.34,429.58 L31.70,428.46 L33.06,427.33 L34.41,426.19 L35.77,425.02 L37.12,423.85 L38.48,422.66 L39.84,421.45 L41.19,420.23 L42.55,419.00 L43.91,417.76 L45.26,416.50 L46.62,415.24 L47.98,413.97 L49.33,412.69 L50.69,411.40 L52.04,410.10 L53.40,408.80 L54.76,407.50 L56.11,406.19 L57.47,404.88 L58.82,403.57 L60.18,402.26 L61.54,400.95 L62.89,399.64 L64.25,398.34 L65.61,397.04 L66.96,395.75 L68.32,394.46 L69.67,393.19 L71.03,391.92 L72.39,390.66 L73.74,389.42 L75.10,388.19 L76.46,386.97 L77.81,385.77 L79.17,384.59 L80.53,383.42 L81.88,382.28 L83.24,381.16 L84.59,380.06 L85.95,378.98 L87.31,377.93 L88.66,376.91 L90.02,375.91 L91.38,374.94 L92.73,374.00 L94.09,373.09 L95.44,372.22 L96.80,371.38 L98.16,370.57 L99.51,369.79 L100.87,369.06 L102.22,368.36 L103.58,367.69 L104.94,367.07 L106.29,366.49 L107.65,365.94 L109.01,365.44 L110.36,364.98 L111.72,364.56 L113.07,364.18 L114.43,363.85 L115.79,363.56 L117.14,363.31 L118.50,363.11 L119.86,362.95 L121.21,362.84 L122.57,362.77 L123.92,362.75 L125.28,362.77 L126.64,362.84 L127.99,362.95 L129.35,363.11 L130.71,363.31 L132.06,363.56 L133.42,363.85 L134.78,364.18 L136.13,364.56 L137.49,364.98 L138.84,365.44 L140.20,365.94 L141.56,366.49 L142.91,367.07 L144.27,367.69 L145.62,368.36 L146.98,369.06 L148.34,369.79 L149.69,370.57 L151.05,371.38 L152.41,372.22 L153.76,373.09 L155.12,374.00 L156.47,374.94 L157.83,375.91 L159.19,376.91 L160.54,377.93 L161.90,378.98 L163.26,380.06 L164.61,381.16 L165.97,382.28 L167.32,383.42 L168.68,384.59 L170.04,385.77 L171.39,386.97 L172.75,388.19 L174.11,389.42 L175.46,390.66 L176.82,391.92 L178.18,393.19 L179.53,394.46 L180.89,395.75 L182.24,397.04 L183.60,398.34 L184.96,399.64 L186.31,400.95 L187.67,402.26 L189.03,403.57 L190.38,404.88 L191.74,406.19 L193.09,407.50 L194.45,408.80 L195.81,410.10 L197.16,411.40 L198.52,412.69 L199.88,413.97 L201.23,415.24 L202.59,416.50 L203.94,417.76 L205.30,419.00 L206.66,420.23 L208.01,421.45 L209.37,422.66 L210.73,423.85 L212.08,425.02 L213.44,426.19 L214.79,427.33 L216.15,428.46 L217.51,429.58 L218.86,430.68 L220.22,431.76 L221.58,432.82 L222.93,433.86 L224.29,434.89 L225.64,435.89 L227.00,436.88 L228.36,437.85 L229.71,438.79 L231.07,439.72 L232.43,440.63 L233.78,441.52 L235.14,442.39 L236.49,443.23 L237.85,444.06 L239.21,444.87 L240.56,445.66 L241.92,446.43 L243.28,447.17 L244.63,447.90 L245.99,448.61 L247.34,449.30 L248.70,449.97 L250.06,450.62 L251.41,451.25 L252.77,451.86 L254.12,452.46 L255.48,453.03 L256.84,453.59 L258.19,454.13 L259.55,454.66 L260.91,455.16 L262.26,455.65 L263.62,456.12 L264.98,456.58 L266.33,457.02 L267.69,457.44 L269.04,457.85 L270.40,458.25 L271.76,458.63 L273.11,458.99 L274.47,459.34 L275.82,459.68 L277.18,460.01 L278.54,460.32 L279.89,460.62 L281.25,460.91 L282.61,461.18 L283.96,461.45 L285.32,461.70 L286.68,461.94 L288.03,462.17 L289.39,462.40 L290.74,462.61 L292.10,462.81 L293.46,463.01 L294.81,463.19 L296.17,463.37 L297.52,463.54 L298.88,463.70 L300.24,463.85 L301.59,464.00 L302.95,464.14 L304.31,464.27 L305.66,464.39 L307.02,464.51 L308.38,464.63 L309.73,464.73 L311.09,464.84 L312.44,464.93 L313.80,465.03 L315.16,465.11 L316.51,465.20 L317.87,465.27 L319.22,465.35 L320.58,465.42 L321.94,465.48 L323.29,465.55 L324.65,465.61 L326.01,465.66 L327.36,465.71 L328.72,465.76 L330.07,465.81 L331.43,465.85 L332.79,465.90 L334.14,465.94 L335.50,465.97" fill="none" stroke="#ff0a14" stroke-width="2.1" stroke-linejoin="round"/>
<line x1="3.5" y1="466.9" x2="342.0" y2="466.9" stroke="#000" stroke-width="1.1" opacity="0.6"/>
<line x1="10.00" y1="466.9" x2="10.00" y2="463.0" stroke="#000" stroke-width="1" opacity="0.6"/>
<line x1="335.50" y1="466.9" x2="335.50" y2="463.0" stroke="#000" stroke-width="1" opacity="0.6"/>
<line x1="172.75" y1="257.5" x2="172.75" y2="467.0" stroke="#000" stroke-width="2.3" opacity="0.78"/>
<text x="9.60" y="481.1" text-anchor="middle" class="t">0</text>
<text x="172.35" y="481.1" text-anchor="middle" class="t">0.5</text>
<text x="335.10" y="481.1" text-anchor="middle" class="t">1</text>
<text x="172.75" y="503.5" text-anchor="middle" class="t">Policy Support</text>
<text x="123.42" y="481.1" text-anchor="middle" class="t m"><tspan class="i">μ</tspan><tspan class="s" dy="2.8">D</tspan><tspan dy="-2.8"> = </tspan><tspan class="i">μ</tspan><tspan class="s" dy="2.8">R</tspan></text>
<text x="15.5" y="278.2" class="t lb">c</text>
<text x="249.4" y="276.9" class="t">Policy Dis.</text>
<text x="249.4" y="303.2" class="t">Support Dis.</text>
<text x="249.4" y="329.5" class="t">Uncertainty Dis.</text>
<text x="246.8" y="330.9" text-anchor="end" class="t ck">✓</text>
<line x1="123.92" y1="340.5" x2="150.47" y2="340.5" stroke="#1a10ff" stroke-width="1.2"/>
<path d="M156.47,340.5 L144.47,337.0 L144.47,344.0 Z" fill="#1a10ff"/>
<text x="136.8" y="333.8" text-anchor="middle" class="t" style="fill:#1a10ff;stroke:#1a10ff"><tspan class="i">σ</tspan><tspan class="s s2" dy="2.8">D</tspan></text>
<line x1="123.92" y1="403.6" x2="66.12" y2="403.6" stroke="#ff0a14" stroke-width="1.2"/>
<path d="M60.12,403.6 L72.12,400.1 L72.12,407.1 Z" fill="#ff0a14"/>
<text x="94.6" y="396.9" text-anchor="middle" class="t" style="fill:#ff0a14;stroke:#ff0a14"><tspan class="i">σ</tspan><tspan class="s s2" dy="2.8">R</tspan></text>
<path d="M350.00,466.50 L351.36,466.50 L352.71,466.50 L354.07,466.50 L355.43,466.50 L356.78,466.50 L358.14,466.50 L359.49,466.50 L360.85,466.50 L362.21,466.50 L363.56,466.50 L364.92,466.50 L366.27,466.50 L367.63,466.50 L368.99,466.50 L370.34,466.50 L371.70,466.50 L373.06,466.50 L374.41,466.50 L375.77,466.50 L377.12,466.50 L378.48,466.50 L379.84,466.50 L381.19,466.50 L382.55,466.50 L383.91,466.50 L385.26,466.50 L386.62,466.50 L387.98,466.50 L389.33,466.50 L390.69,466.50 L392.04,466.50 L393.40,466.50 L394.76,466.50 L396.11,466.50 L397.47,466.50 L398.82,466.50 L400.18,466.50 L401.54,466.50 L402.89,466.50 L404.25,466.50 L405.61,466.50 L406.96,466.50 L408.32,466.50 L409.68,466.50 L411.03,466.50 L412.39,466.49 L413.74,466.49 L415.10,466.49 L416.46,466.49 L417.81,466.49 L419.17,466.49 L420.52,466.48 L421.88,466.48 L423.24,466.48 L424.59,466.47 L425.95,466.46 L427.31,466.46 L428.66,466.45 L430.02,466.44 L431.38,466.43 L432.73,466.42 L434.09,466.40 L435.44,466.39 L436.80,466.37 L438.16,466.34 L439.51,466.32 L440.87,466.29 L442.23,466.25 L443.58,466.21 L444.94,466.16 L446.29,466.11 L447.65,466.05 L449.01,465.98 L450.36,465.89 L451.72,465.80 L453.07,465.70 L454.43,465.58 L455.79,465.44 L457.14,465.29 L458.50,465.12 L459.86,464.93 L461.21,464.71 L462.57,464.47 L463.93,464.19 L465.28,463.89 L466.64,463.55 L467.99,463.17 L469.35,462.75 L470.71,462.29 L472.06,461.77 L473.42,461.20 L474.77,460.57 L476.13,459.88 L477.49,459.12 L478.84,458.29 L480.20,457.38 L481.56,456.39 L482.91,455.31 L484.27,454.14 L485.62,452.86 L486.98,451.48 L488.34,449.99 L489.69,448.38 L491.05,446.66 L492.41,444.80 L493.76,442.81 L495.12,440.69 L496.48,438.42 L497.83,436.00 L499.19,433.44 L500.54,430.72 L501.90,427.85 L503.26,424.82 L504.61,421.62 L505.97,418.27 L507.32,414.76 L508.68,411.09 L510.04,407.26 L511.39,403.27 L512.75,399.13 L514.11,394.85 L515.46,390.43 L516.82,385.87 L518.17,381.19 L519.53,376.40 L520.89,371.50 L522.24,366.51 L523.60,361.44 L524.96,356.30 L526.31,351.11 L527.67,345.89 L529.02,340.64 L530.38,335.40 L531.74,330.18 L533.09,325.00 L534.45,319.87 L535.81,314.82 L537.16,309.87 L538.52,305.04 L539.88,300.35 L541.23,295.82 L542.59,291.46 L543.94,287.31 L545.30,283.38 L546.66,279.69 L548.01,276.25 L549.37,273.09 L550.73,270.21 L552.08,267.64 L553.44,265.38 L554.79,263.45 L556.15,261.86 L557.51,260.61 L558.86,259.72 L560.22,259.18 L561.58,259.00 L562.93,259.18 L564.29,259.72 L565.64,260.61 L567.00,261.86 L568.36,263.45 L569.71,265.38 L571.07,267.64 L572.42,270.21 L573.78,273.09 L575.14,276.25 L576.49,279.69 L577.85,283.38 L579.21,287.31 L580.56,291.46 L581.92,295.82 L583.27,300.35 L584.63,305.04 L585.99,309.87 L587.34,314.82 L588.70,319.87 L590.06,325.00 L591.41,330.18 L592.77,335.40 L594.12,340.64 L595.48,345.89 L596.84,351.11 L598.19,356.30 L599.55,361.44 L600.91,366.51 L602.26,371.50 L603.62,376.40 L604.98,381.19 L606.33,385.87 L607.69,390.43 L609.04,394.85 L610.40,399.13 L611.76,403.27 L613.11,407.26 L614.47,411.09 L615.83,414.76 L617.18,418.27 L618.54,421.62 L619.89,424.82 L621.25,427.85 L622.61,430.72 L623.96,433.44 L625.32,436.00 L626.67,438.42 L628.03,440.69 L629.39,442.81 L630.74,444.80 L632.10,446.66 L633.46,448.38 L634.81,449.99 L636.17,451.48 L637.52,452.86 L638.88,454.14 L640.24,455.31 L641.59,456.39 L642.95,457.38 L644.31,458.29 L645.66,459.12 L647.02,459.88 L648.38,460.57 L649.73,461.20 L651.09,461.77 L652.44,462.29 L653.80,462.75 L655.16,463.17 L656.51,463.55 L657.87,463.89 L659.22,464.19 L660.58,464.47 L661.94,464.71 L663.29,464.93 L664.65,465.12 L666.01,465.29 L667.36,465.44 L668.72,465.58 L670.08,465.70 L671.43,465.80 L672.79,465.89 L674.14,465.98 L675.50,466.05 L675.50,466.5 L350.00,466.5 Z" fill="rgba(0,0,255,0.2)"/>
<path d="M350.00,444.06 L351.36,443.23 L352.71,442.39 L354.07,441.52 L355.43,440.63 L356.78,439.72 L358.14,438.79 L359.49,437.85 L360.85,436.88 L362.21,435.89 L363.56,434.89 L364.92,433.86 L366.27,432.82 L367.63,431.76 L368.99,430.68 L370.34,429.58 L371.70,428.46 L373.06,427.33 L374.41,426.19 L375.77,425.02 L377.12,423.85 L378.48,422.66 L379.84,421.45 L381.19,420.23 L382.55,419.00 L383.91,417.76 L385.26,416.50 L386.62,415.24 L387.98,413.97 L389.33,412.69 L390.69,411.40 L392.04,410.10 L393.40,408.80 L394.76,407.50 L396.11,406.19 L397.47,404.88 L398.82,403.57 L400.18,402.26 L401.54,400.95 L402.89,399.64 L404.25,398.34 L405.61,397.04 L406.96,395.75 L408.32,394.46 L409.68,393.19 L411.03,391.92 L412.39,390.66 L413.74,389.42 L415.10,388.19 L416.46,386.97 L417.81,385.77 L419.17,384.59 L420.52,383.42 L421.88,382.28 L423.24,381.16 L424.59,380.06 L425.95,378.98 L427.31,377.93 L428.66,376.91 L430.02,375.91 L431.38,374.94 L432.73,374.00 L434.09,373.09 L435.44,372.22 L436.80,371.38 L438.16,370.57 L439.51,369.79 L440.87,369.06 L442.23,368.36 L443.58,367.69 L444.94,367.07 L446.29,366.49 L447.65,365.94 L449.01,365.44 L450.36,364.98 L451.72,364.56 L453.07,364.18 L454.43,363.85 L455.79,363.56 L457.14,363.31 L458.50,363.11 L459.86,362.95 L461.21,362.84 L462.57,362.77 L463.93,362.75 L465.28,362.77 L466.64,362.84 L467.99,362.95 L469.35,363.11 L470.71,363.31 L472.06,363.56 L473.42,363.85 L474.77,364.18 L476.13,364.56 L477.49,364.98 L478.84,365.44 L480.20,365.94 L481.56,366.49 L482.91,367.07 L484.27,367.69 L485.62,368.36 L486.98,369.06 L488.34,369.79 L489.69,370.57 L491.05,371.38 L492.41,372.22 L493.76,373.09 L495.12,374.00 L496.48,374.94 L497.83,375.91 L499.19,376.91 L500.54,377.93 L501.90,378.98 L503.26,380.06 L504.61,381.16 L505.97,382.28 L507.32,383.42 L508.68,384.59 L510.04,385.77 L511.39,386.97 L512.75,388.19 L514.11,389.42 L515.46,390.66 L516.82,391.92 L518.17,393.19 L519.53,394.46 L520.89,395.75 L522.24,397.04 L523.60,398.34 L524.96,399.64 L526.31,400.95 L527.67,402.26 L529.02,403.57 L530.38,404.88 L531.74,406.19 L533.09,407.50 L534.45,408.80 L535.81,410.10 L537.16,411.40 L538.52,412.69 L539.88,413.97 L541.23,415.24 L542.59,416.50 L543.94,417.76 L545.30,419.00 L546.66,420.23 L548.01,421.45 L549.37,422.66 L550.73,423.85 L552.08,425.02 L553.44,426.19 L554.79,427.33 L556.15,428.46 L557.51,429.58 L558.86,430.68 L560.22,431.76 L561.58,432.82 L562.93,433.86 L564.29,434.89 L565.64,435.89 L567.00,436.88 L568.36,437.85 L569.71,438.79 L571.07,439.72 L572.42,440.63 L573.78,441.52 L575.14,442.39 L576.49,443.23 L577.85,444.06 L579.21,444.87 L580.56,445.66 L581.92,446.43 L583.27,447.17 L584.63,447.90 L585.99,448.61 L587.34,449.30 L588.70,449.97 L590.06,450.62 L591.41,451.25 L592.77,451.86 L594.12,452.46 L595.48,453.03 L596.84,453.59 L598.19,454.13 L599.55,454.66 L600.91,455.16 L602.26,455.65 L603.62,456.12 L604.98,456.58 L606.33,457.02 L607.69,457.44 L609.04,457.85 L610.40,458.25 L611.76,458.63 L613.11,458.99 L614.47,459.34 L615.83,459.68 L617.18,460.01 L618.54,460.32 L619.89,460.62 L621.25,460.91 L622.61,461.18 L623.96,461.45 L625.32,461.70 L626.67,461.94 L628.03,462.17 L629.39,462.40 L630.74,462.61 L632.10,462.81 L633.46,463.01 L634.81,463.19 L636.17,463.37 L637.52,463.54 L638.88,463.70 L640.24,463.85 L641.59,464.00 L642.95,464.14 L644.31,464.27 L645.66,464.39 L647.02,464.51 L648.38,464.63 L649.73,464.73 L651.09,464.84 L652.44,464.93 L653.80,465.03 L655.16,465.11 L656.51,465.20 L657.87,465.27 L659.22,465.35 L660.58,465.42 L661.94,465.48 L663.29,465.55 L664.65,465.61 L666.01,465.66 L667.36,465.71 L668.72,465.76 L670.08,465.81 L671.43,465.85 L672.79,465.90 L674.14,465.94 L675.50,465.97 L675.50,466.5 L350.00,466.5 Z" fill="rgba(255,0,0,0.2)"/>
<line x1="561.58" y1="259.00" x2="561.58" y2="466.50" stroke="#0000ff" stroke-width="1.9" opacity="0.45"/>
<line x1="463.93" y1="362.75" x2="463.93" y2="466.5" stroke="#ff0000" stroke-width="1.9" opacity="0.45"/>
<path d="M350.00,466.50 L351.36,466.50 L352.71,466.50 L354.07,466.50 L355.43,466.50 L356.78,466.50 L358.14,466.50 L359.49,466.50 L360.85,466.50 L362.21,466.50 L363.56,466.50 L364.92,466.50 L366.27,466.50 L367.63,466.50 L368.99,466.50 L370.34,466.50 L371.70,466.50 L373.06,466.50 L374.41,466.50 L375.77,466.50 L377.12,466.50 L378.48,466.50 L379.84,466.50 L381.19,466.50 L382.55,466.50 L383.91,466.50 L385.26,466.50 L386.62,466.50 L387.98,466.50 L389.33,466.50 L390.69,466.50 L392.04,466.50 L393.40,466.50 L394.76,466.50 L396.11,466.50 L397.47,466.50 L398.82,466.50 L400.18,466.50 L401.54,466.50 L402.89,466.50 L404.25,466.50 L405.61,466.50 L406.96,466.50 L408.32,466.50 L409.68,466.50 L411.03,466.50 L412.39,466.49 L413.74,466.49 L415.10,466.49 L416.46,466.49 L417.81,466.49 L419.17,466.49 L420.52,466.48 L421.88,466.48 L423.24,466.48 L424.59,466.47 L425.95,466.46 L427.31,466.46 L428.66,466.45 L430.02,466.44 L431.38,466.43 L432.73,466.42 L434.09,466.40 L435.44,466.39 L436.80,466.37 L438.16,466.34 L439.51,466.32 L440.87,466.29 L442.23,466.25 L443.58,466.21 L444.94,466.16 L446.29,466.11 L447.65,466.05 L449.01,465.98 L450.36,465.89 L451.72,465.80 L453.07,465.70 L454.43,465.58 L455.79,465.44 L457.14,465.29 L458.50,465.12 L459.86,464.93 L461.21,464.71 L462.57,464.47 L463.93,464.19 L465.28,463.89 L466.64,463.55 L467.99,463.17 L469.35,462.75 L470.71,462.29 L472.06,461.77 L473.42,461.20 L474.77,460.57 L476.13,459.88 L477.49,459.12 L478.84,458.29 L480.20,457.38 L481.56,456.39 L482.91,455.31 L484.27,454.14 L485.62,452.86 L486.98,451.48 L488.34,449.99 L489.69,448.38 L491.05,446.66 L492.41,444.80 L493.76,442.81 L495.12,440.69 L496.48,438.42 L497.83,436.00 L499.19,433.44 L500.54,430.72 L501.90,427.85 L503.26,424.82 L504.61,421.62 L505.97,418.27 L507.32,414.76 L508.68,411.09 L510.04,407.26 L511.39,403.27 L512.75,399.13 L514.11,394.85 L515.46,390.43 L516.82,385.87 L518.17,381.19 L519.53,376.40 L520.89,371.50 L522.24,366.51 L523.60,361.44 L524.96,356.30 L526.31,351.11 L527.67,345.89 L529.02,340.64 L530.38,335.40 L531.74,330.18 L533.09,325.00 L534.45,319.87 L535.81,314.82 L537.16,309.87 L538.52,305.04 L539.88,300.35 L541.23,295.82 L542.59,291.46 L543.94,287.31 L545.30,283.38 L546.66,279.69 L548.01,276.25 L549.37,273.09 L550.73,270.21 L552.08,267.64 L553.44,265.38 L554.79,263.45 L556.15,261.86 L557.51,260.61 L558.86,259.72 L560.22,259.18 L561.58,259.00 L562.93,259.18 L564.29,259.72 L565.64,260.61 L567.00,261.86 L568.36,263.45 L569.71,265.38 L571.07,267.64 L572.42,270.21 L573.78,273.09 L575.14,276.25 L576.49,279.69 L577.85,283.38 L579.21,287.31 L580.56,291.46 L581.92,295.82 L583.27,300.35 L584.63,305.04 L585.99,309.87 L587.34,314.82 L588.70,319.87 L590.06,325.00 L591.41,330.18 L592.77,335.40 L594.12,340.64 L595.48,345.89 L596.84,351.11 L598.19,356.30 L599.55,361.44 L600.91,366.51 L602.26,371.50 L603.62,376.40 L604.98,381.19 L606.33,385.87 L607.69,390.43 L609.04,394.85 L610.40,399.13 L611.76,403.27 L613.11,407.26 L614.47,411.09 L615.83,414.76 L617.18,418.27 L618.54,421.62 L619.89,424.82 L621.25,427.85 L622.61,430.72 L623.96,433.44 L625.32,436.00 L626.67,438.42 L628.03,440.69 L629.39,442.81 L630.74,444.80 L632.10,446.66 L633.46,448.38 L634.81,449.99 L636.17,451.48 L637.52,452.86 L638.88,454.14 L640.24,455.31 L641.59,456.39 L642.95,457.38 L644.31,458.29 L645.66,459.12 L647.02,459.88 L648.38,460.57 L649.73,461.20 L651.09,461.77 L652.44,462.29 L653.80,462.75 L655.16,463.17 L656.51,463.55 L657.87,463.89 L659.22,464.19 L660.58,464.47 L661.94,464.71 L663.29,464.93 L664.65,465.12 L666.01,465.29 L667.36,465.44 L668.72,465.58 L670.08,465.70 L671.43,465.80 L672.79,465.89 L674.14,465.98 L675.50,466.05" fill="none" stroke="#1a10ff" stroke-width="2.1" stroke-linejoin="round"/>
<path d="M350.00,444.06 L351.36,443.23 L352.71,442.39 L354.07,441.52 L355.43,440.63 L356.78,439.72 L358.14,438.79 L359.49,437.85 L360.85,436.88 L362.21,435.89 L363.56,434.89 L364.92,433.86 L366.27,432.82 L367.63,431.76 L368.99,430.68 L370.34,429.58 L371.70,428.46 L373.06,427.33 L374.41,426.19 L375.77,425.02 L377.12,423.85 L378.48,422.66 L379.84,421.45 L381.19,420.23 L382.55,419.00 L383.91,417.76 L385.26,416.50 L386.62,415.24 L387.98,413.97 L389.33,412.69 L390.69,411.40 L392.04,410.10 L393.40,408.80 L394.76,407.50 L396.11,406.19 L397.47,404.88 L398.82,403.57 L400.18,402.26 L401.54,400.95 L402.89,399.64 L404.25,398.34 L405.61,397.04 L406.96,395.75 L408.32,394.46 L409.68,393.19 L411.03,391.92 L412.39,390.66 L413.74,389.42 L415.10,388.19 L416.46,386.97 L417.81,385.77 L419.17,384.59 L420.52,383.42 L421.88,382.28 L423.24,381.16 L424.59,380.06 L425.95,378.98 L427.31,377.93 L428.66,376.91 L430.02,375.91 L431.38,374.94 L432.73,374.00 L434.09,373.09 L435.44,372.22 L436.80,371.38 L438.16,370.57 L439.51,369.79 L440.87,369.06 L442.23,368.36 L443.58,367.69 L444.94,367.07 L446.29,366.49 L447.65,365.94 L449.01,365.44 L450.36,364.98 L451.72,364.56 L453.07,364.18 L454.43,363.85 L455.79,363.56 L457.14,363.31 L458.50,363.11 L459.86,362.95 L461.21,362.84 L462.57,362.77 L463.93,362.75 L465.28,362.77 L466.64,362.84 L467.99,362.95 L469.35,363.11 L470.71,363.31 L472.06,363.56 L473.42,363.85 L474.77,364.18 L476.13,364.56 L477.49,364.98 L478.84,365.44 L480.20,365.94 L481.56,366.49 L482.91,367.07 L484.27,367.69 L485.62,368.36 L486.98,369.06 L488.34,369.79 L489.69,370.57 L491.05,371.38 L492.41,372.22 L493.76,373.09 L495.12,374.00 L496.48,374.94 L497.83,375.91 L499.19,376.91 L500.54,377.93 L501.90,378.98 L503.26,380.06 L504.61,381.16 L505.97,382.28 L507.32,383.42 L508.68,384.59 L510.04,385.77 L511.39,386.97 L512.75,388.19 L514.11,389.42 L515.46,390.66 L516.82,391.92 L518.17,393.19 L519.53,394.46 L520.89,395.75 L522.24,397.04 L523.60,398.34 L524.96,399.64 L526.31,400.95 L527.67,402.26 L529.02,403.57 L530.38,404.88 L531.74,406.19 L533.09,407.50 L534.45,408.80 L535.81,410.10 L537.16,411.40 L538.52,412.69 L539.88,413.97 L541.23,415.24 L542.59,416.50 L543.94,417.76 L545.30,419.00 L546.66,420.23 L548.01,421.45 L549.37,422.66 L550.73,423.85 L552.08,425.02 L553.44,426.19 L554.79,427.33 L556.15,428.46 L557.51,429.58 L558.86,430.68 L560.22,431.76 L561.58,432.82 L562.93,433.86 L564.29,434.89 L565.64,435.89 L567.00,436.88 L568.36,437.85 L569.71,438.79 L571.07,439.72 L572.42,440.63 L573.78,441.52 L575.14,442.39 L576.49,443.23 L577.85,444.06 L579.21,444.87 L580.56,445.66 L581.92,446.43 L583.27,447.17 L584.63,447.90 L585.99,448.61 L587.34,449.30 L588.70,449.97 L590.06,450.62 L591.41,451.25 L592.77,451.86 L594.12,452.46 L595.48,453.03 L596.84,453.59 L598.19,454.13 L599.55,454.66 L600.91,455.16 L602.26,455.65 L603.62,456.12 L604.98,456.58 L606.33,457.02 L607.69,457.44 L609.04,457.85 L610.40,458.25 L611.76,458.63 L613.11,458.99 L614.47,459.34 L615.83,459.68 L617.18,460.01 L618.54,460.32 L619.89,460.62 L621.25,460.91 L622.61,461.18 L623.96,461.45 L625.32,461.70 L626.67,461.94 L628.03,462.17 L629.39,462.40 L630.74,462.61 L632.10,462.81 L633.46,463.01 L634.81,463.19 L636.17,463.37 L637.52,463.54 L638.88,463.70 L640.24,463.85 L641.59,464.00 L642.95,464.14 L644.31,464.27 L645.66,464.39 L647.02,464.51 L648.38,464.63 L649.73,464.73 L651.09,464.84 L652.44,464.93 L653.80,465.03 L655.16,465.11 L656.51,465.20 L657.87,465.27 L659.22,465.35 L660.58,465.42 L661.94,465.48 L663.29,465.55 L664.65,465.61 L666.01,465.66 L667.36,465.71 L668.72,465.76 L670.08,465.81 L671.43,465.85 L672.79,465.90 L674.14,465.94 L675.50,465.97" fill="none" stroke="#ff0a14" stroke-width="2.1" stroke-linejoin="round"/>
<line x1="343.5" y1="466.9" x2="682.0" y2="466.9" stroke="#000" stroke-width="1.1" opacity="0.6"/>
<line x1="350.00" y1="466.9" x2="350.00" y2="463.0" stroke="#000" stroke-width="1" opacity="0.6"/>
<line x1="675.50" y1="466.9" x2="675.50" y2="463.0" stroke="#000" stroke-width="1" opacity="0.6"/>
<line x1="512.75" y1="257.5" x2="512.75" y2="467.0" stroke="#000" stroke-width="2.3" opacity="0.78"/>
<text x="349.60" y="481.1" text-anchor="middle" class="t">0</text>
<text x="512.35" y="481.1" text-anchor="middle" class="t">0.5</text>
<text x="675.10" y="481.1" text-anchor="middle" class="t">1</text>
<text x="512.75" y="503.5" text-anchor="middle" class="t">Policy Support</text>
<text x="463.62" y="481.1" text-anchor="middle" class="t m"><tspan class="i">μ</tspan><tspan class="s" dy="2.8">R</tspan></text>
<text x="561.08" y="481.1" text-anchor="middle" class="t m"><tspan class="i">μ</tspan><tspan class="s" dy="2.8">D</tspan></text>
<text x="355.5" y="278.2" class="t lb">d</text>
<text x="400.4" y="276.9" class="t">Policy Dis.</text>
<text x="397.79999999999995" y="278.29999999999995" text-anchor="end" class="t ck">✓</text>
<text x="400.4" y="303.2" class="t">Support Dis.</text>
<text x="397.79999999999995" y="304.59999999999997" text-anchor="end" class="t ck">✓</text>
<text x="400.4" y="329.5" class="t">Uncertainty Dis.</text>
<text x="397.79999999999995" y="330.9" text-anchor="end" class="t ck">✓</text>
<line x1="561.58" y1="340.5" x2="588.12" y2="340.5" stroke="#1a10ff" stroke-width="1.2"/>
<path d="M594.12,340.5 L582.12,337.0 L582.12,344.0 Z" fill="#1a10ff"/>
<text x="574" y="333.8" text-anchor="middle" class="t" style="fill:#1a10ff;stroke:#1a10ff"><tspan class="i">σ</tspan><tspan class="s s2" dy="2.8">D</tspan></text>
<line x1="463.93" y1="403.6" x2="406.12" y2="403.6" stroke="#ff0a14" stroke-width="1.2"/>
<path d="M400.12,403.6 L412.12,400.1 L412.12,407.1 Z" fill="#ff0a14"/>
<text x="434" y="396.9" text-anchor="middle" class="t" style="fill:#ff0a14;stroke:#ff0a14"><tspan class="i">σ</tspan><tspan class="s s2" dy="2.8">R</tspan></text>
</g>
</svg>
</body></html>
